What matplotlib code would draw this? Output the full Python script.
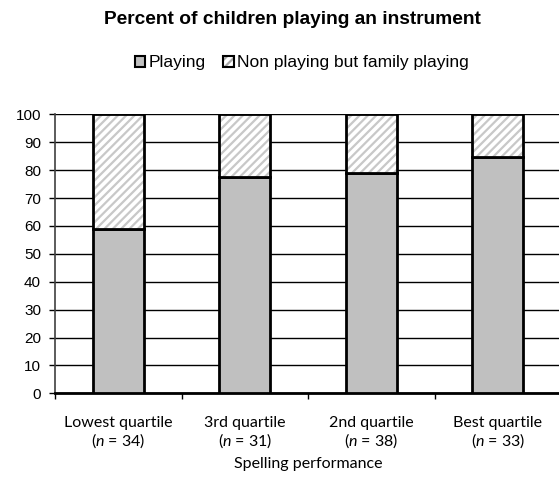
import matplotlib
matplotlib.use("Agg")
import matplotlib.pyplot as plt
from matplotlib.patches import Patch
from matplotlib.legend_handler import HandlerTuple

categories = ["Lowest quartile", "3rd quartile", "2nd quartile", "Best quartile"]
n_values = [34, 31, 38, 33]
playing = [58.8, 77.4, 78.9, 84.8]
family_playing = [41.2, 22.6, 21.1, 15.2]
y_ticks = [0, 10, 20, 30, 40, 50, 60, 70, 80, 90, 100]

plt.rcParams['font.family'] = ['Liberation Sans', 'DejaVu Sans']
plt.rcParams['hatch.linewidth'] = 1.6
plt.rcParams['mathtext.fontset'] = 'custom'
plt.rcParams['mathtext.it'] = 'Lato:italic'
plt.rcParams['mathtext.rm'] = 'Lato'

fig = plt.figure(figsize=(5.59, 4.83), dpi=100)
ax = fig.add_axes([55/559, 1-393.3/483, 506/559, (393.3-114.3)/483])

x = list(range(len(categories)))
w = 0.40
ax.bar(x, playing, width=w, color='#c0c0c0', edgecolor='black', linewidth=2, zorder=3)
ax.bar(x, family_playing, width=w, bottom=playing, color='white', edgecolor='#c8c8c8',
       hatch='////', linewidth=0, zorder=3)
ax.bar(x, family_playing, width=w, bottom=playing, fill=False, edgecolor='black',
       linewidth=2, zorder=4)

ax.set_ylim(0, 100)
ax.set_xlim(-0.5, 3.5)
ax.set_yticks(y_ticks)
ax.tick_params(axis='y', labelsize=11, length=4, width=1, direction='out', pad=6)
ax.yaxis.grid(True, color='black', linewidth=1)
ax.set_axisbelow(True)

ax.set_xticks(x)
ax.set_xticklabels([f"{c}\n($\\it{{n}}$ = {n})" for c, n in zip(categories, n_values)],
                   fontfamily='Lato', fontsize=11.5, linespacing=1.15)
ax.tick_params(axis='x', which='major', length=0, pad=16)
ax.set_xticks([-0.5, 0.5, 1.5, 2.5, 3.5], minor=True)
ax.tick_params(axis='x', which='minor', length=4, width=1, direction='out')
ax.set_xlabel("Spelling performance", fontfamily='Lato', fontsize=11.5, labelpad=5)

for s in ['top', 'right']:
    ax.spines[s].set_visible(False)
ax.spines['left'].set_color('#404040')
ax.spines['left'].set_linewidth(1.2)
ax.spines['bottom'].set_linewidth(2)

fig.text(292.5/559, 1-20/483, "Percent of children playing an instrument",
         ha='center', va='center', fontsize=13.8, fontweight='bold')

h1 = Patch(facecolor='#c0c0c0', edgecolor='black', linewidth=1.5)
h2a = Patch(facecolor='white', edgecolor='#a8a8a8', hatch='////', linewidth=0)
h2b = Patch(fill=False, edgecolor='black', linewidth=1.5)
fig.legend([h1, (h2a, h2b)], ["Playing", "Non playing but family playing"],
           handler_map={tuple: HandlerTuple(ndivide=1, pad=0)},
           loc='center', bbox_to_anchor=(302/559, 1-63/483), ncol=2, frameon=False,
           fontsize=12.5, handlelength=0.6, handleheight=0.6, handletextpad=0.2,
           columnspacing=1.0)

fig.savefig("out.png", dpi=100)
